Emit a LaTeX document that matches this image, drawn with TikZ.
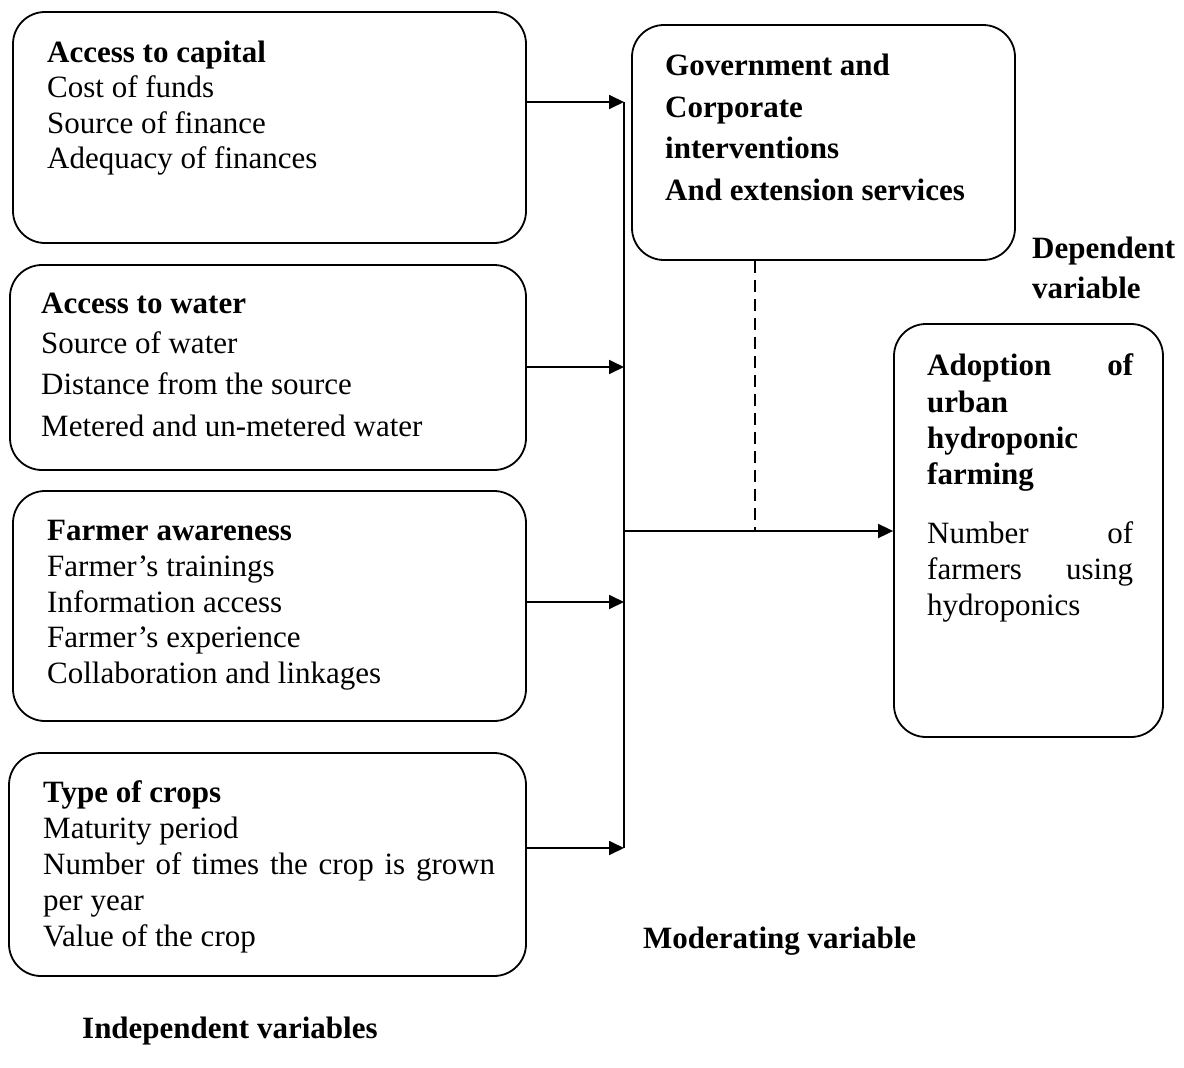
\documentclass[tikz,border=0pt]{standalone}
\usepackage{fontspec}
\setmainfont{Liberation Serif}
\usetikzlibrary{arrows.meta}
\begin{document}
\begin{tikzpicture}[x=1pt,y=-1pt,
  box/.style={draw,line width=1.8pt,rounded corners=32pt,inner sep=0pt},
  txt/.style={anchor=base west,inner sep=0pt,font=\fontsize{31}{36}\selectfont},
  ttl/.style={anchor=base west,inner sep=0pt,font=\fontsize{31}{36}\selectfont\bfseries},
  conn/.style={line width=1.8pt},
  arr/.style={conn,-{Triangle[length=15pt,width=14pt]}},
  dashline/.style={line width=1.5pt,dash pattern=on 12pt off 7pt}
]
\useasboundingbox (0,0) rectangle (1184,1068);
% boxes
\node[box,minimum width=513pt,minimum height=231pt] (b1) at (269.5,127.5) {};
\node[box,minimum width=516pt,minimum height=205pt] (b2) at (268,367.5) {};
\node[box,minimum width=513pt,minimum height=230pt] (b3) at (269.5,606) {};
\node[box,minimum width=517pt,minimum height=223pt] (b4) at (267.5,864.5) {};
\node[box,minimum width=383pt,minimum height=235pt] (gov) at (823.5,142.5) {};
\node[box,minimum width=269pt,minimum height=413pt] (adopt) at (1028.5,530.5) {};
% box 1 text
\node[ttl] (t1a) at (47,62) {Access to capital};
\node[txt] (t1b) at (47,97) {Cost of funds};
\node[txt] (t1c) at (47,133) {Source of finance};
\node[txt] (t1d) at (47,168) {Adequacy of finances};
% box 2 text
\node[ttl] (t2a) at (41,313) {Access to water};
\node[txt] (t2b) at (41,353) {Source of water};
\node[txt] (t2c) at (41,394) {Distance from the source};
\node[txt] (t2d) at (41,436) {Metered and un-metered water};
% box 3 text
\node[ttl] (t3a) at (47,540) {Farmer awareness};
\node[txt] (t3b) at (47,576) {Farmer’s trainings};
\node[txt] (t3c) at (47,612) {Information access};
\node[txt] (t3d) at (47,647) {Farmer’s experience};
\node[txt] (t3e) at (47,683) {Collaboration and linkages};
% box 4 text
\node[ttl] (t4a) at (43,802) {Type of crops};
\node[txt] (t4b) at (43,838) {Maturity period};
\node[txt] (t4c) at (43,874) {\makebox[452pt][s]{Number of times the crop is grown}};
\node[txt] (t4d) at (43,910) {per year};
\node[txt] (t4e) at (43,946) {Value of the crop};
% government box text
\node[ttl] (g1) at (665,75) {Government and};
\node[ttl] (g2) at (665,117) {Corporate};
\node[ttl] (g3) at (665,158) {interventions};
\node[ttl] (g4) at (665,200) {And extension services};
% adoption box text
\node[ttl] (a1) at (927,375) {\makebox[206pt][s]{Adoption of}};
\node[ttl] (a2) at (927,412) {urban};
\node[ttl] (a3) at (927,448) {hydroponic};
\node[ttl] (a4) at (927,484) {farming};
\node[txt] (a5) at (927,543) {\makebox[206pt][s]{Number of}};
\node[txt] (a6) at (927,579) {\makebox[206pt][s]{farmers using}};
\node[txt] (a7) at (927,615) {hydroponics};
% labels
\node[ttl] (dep1) at (1032,258) {Dependent};
\node[ttl] (dep2) at (1032,298) {variable};
\node[ttl] (mod) at (643,948) {Moderating variable};
\node[ttl] (ind) at (82,1038) {Independent variables};
% connectors
\coordinate (j1) at (624,102);
\coordinate (j2) at (624,367);
\coordinate (j3) at (624,602);
\coordinate (j4) at (624,848);
\coordinate (jm) at (624,531);
\coordinate (jd) at (755,531);
\draw[conn] (j1) -- (j4);
\draw[arr] (b1.east |- j1) -- (j1);
\draw[arr] (b2.east |- j2) -- (j2);
\draw[arr] (b3.east |- j3) -- (j3);
\draw[arr] (b4.east |- j4) -- (j4);
\draw[arr] (jm) -- (adopt.west |- jm);
\draw[dashline] (gov.south -| jd) -- (jd);
\end{tikzpicture}
\end{document}
